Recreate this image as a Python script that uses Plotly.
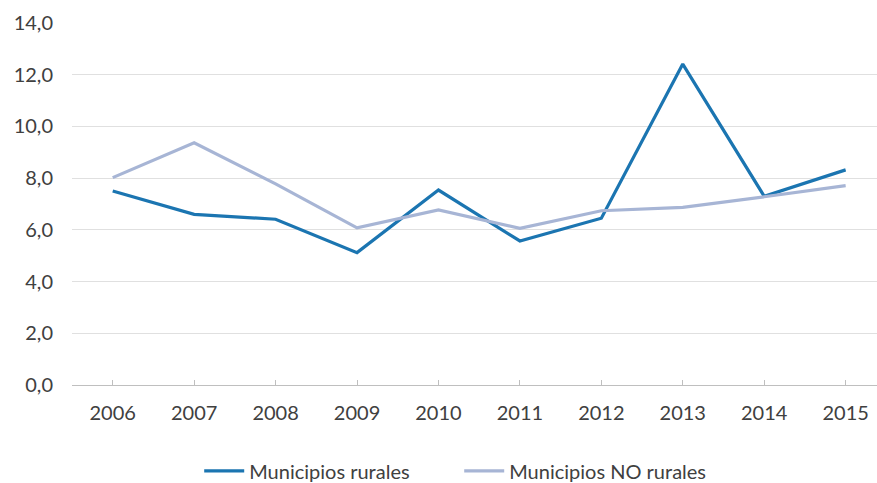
import plotly.graph_objects as go

years = [2006, 2007, 2008, 2009, 2010, 2011, 2012, 2013, 2014, 2015]
rurales = [7.50, 6.60, 6.41, 5.12, 7.54, 5.57, 6.45, 12.41, 7.30, 8.32]
no_rurales = [8.02, 9.37, 7.78, 6.08, 6.77, 6.06, 6.74, 6.87, 7.28, 7.71]
y_ticks = [0, 2, 4, 6, 8, 10, 12, 14]

font_family = "Lato, 'Open Sans', sans-serif"
text_color = "#404040"

fig = go.Figure()
fig.add_trace(go.Scatter(
    x=years, y=rurales, mode="lines", name="Municipios rurales",
    line=dict(color="#1B75B1", width=3.2),
))
fig.add_trace(go.Scatter(
    x=years, y=no_rurales, mode="lines", name="Municipios NO rurales",
    line=dict(color="#A7B5D5", width=3.2),
))

fig.update_layout(
    width=877, height=483,
    margin=dict(l=72, r=0, t=23, b=98, autoexpand=False),
    paper_bgcolor="white", plot_bgcolor="white",
    separators=",.",
    font=dict(family=font_family, size=20, color=text_color),
    showlegend=True,
    legend=dict(
        orientation="h", x=0.481, xanchor="center", y=-0.237, yanchor="middle",
        font=dict(size=20, color=text_color), itemwidth=40,
        entrywidth=205, entrywidthmode="pixels",
        traceorder="normal",
    ),
    xaxis=dict(
        range=[2005.5, 2015.385], tickmode="array", tickvals=years,
        ticktext=[str(y) for y in years],
        showgrid=False, zeroline=False,
        showline=True, linecolor="#BFBFBF", linewidth=1,
        ticks="inside", ticklen=5, tickcolor="#BFBFBF",
        ticklabelstandoff=10,
    ),
    yaxis=dict(
        range=[0, 14], tickmode="array", tickvals=y_ticks, tickformat=".1f",
        showgrid=True, gridcolor="#E0E0E0", gridwidth=1,
        zeroline=False, showline=False, ticks="",
        ticklabelstandoff=18,
    ),
)

fig.write_html("out.html")
